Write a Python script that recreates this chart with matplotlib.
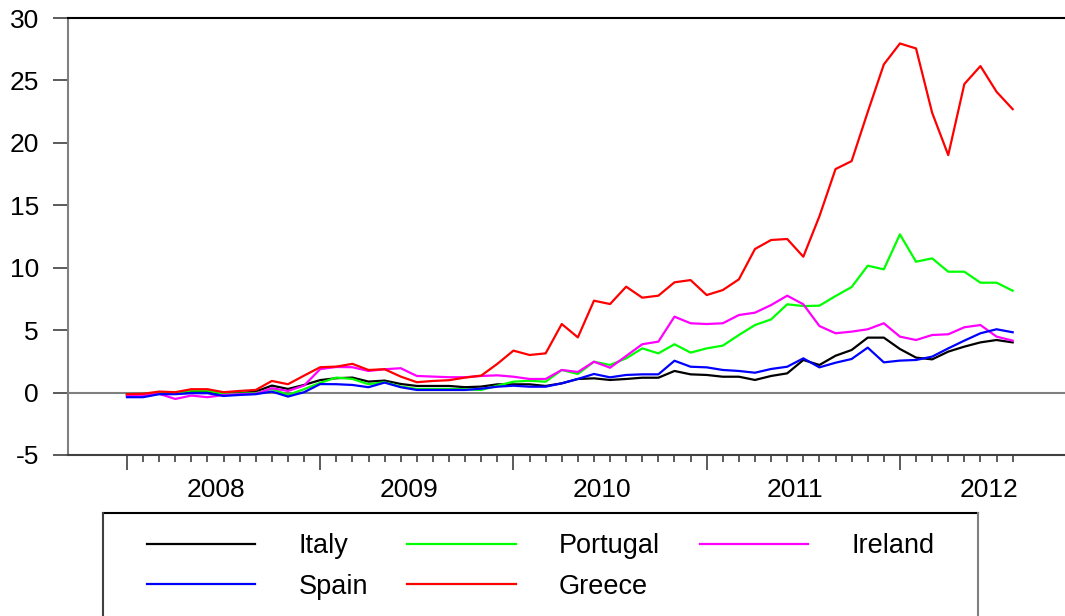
import matplotlib
matplotlib.use("Agg")
import matplotlib.pyplot as plt
from matplotlib.lines import Line2D
from matplotlib.transforms import blended_transform_factory
import numpy as np

plt.rcParams['font.family'] = ['Liberation Sans', 'DejaVu Sans']
plt.rcParams['axes.unicode_minus'] = False

# monthly observations, Jan 2008 .. Aug 2012
years = ['2008', '2009', '2010', '2011', '2012']

italy = [-0.19, -0.13, -0.08, -0.05, 0.08, 0.08, -0.10, -0.05, 0.08, 0.56, 0.29, 0.61,
         1.00, 1.15, 1.20, 0.88, 0.96, 0.69, 0.53, 0.53, 0.53, 0.43, 0.48, 0.66,
         0.66, 0.66, 0.53, 0.74, 1.09, 1.14, 1.01, 1.09, 1.19, 1.19, 1.73, 1.46,
         1.41, 1.27, 1.27, 1.01, 1.33, 1.54, 2.61, 2.21, 2.95, 3.41, 4.40, 4.40,
         3.49, 2.80, 2.66, 3.28, 3.68, 4.02, 4.21, 4.02]
spain = [-0.37, -0.37, -0.13, -0.13, -0.05, -0.05, -0.27, -0.19, -0.13, 0.08, -0.32, 0.03,
         0.68, 0.67, 0.61, 0.43, 0.80, 0.43, 0.21, 0.21, 0.21, 0.21, 0.31, 0.47,
         0.55, 0.47, 0.47, 0.74, 1.09, 1.49, 1.22, 1.41, 1.46, 1.46, 2.55, 2.07,
         2.02, 1.81, 1.73, 1.59, 1.89, 2.07, 2.74, 2.02, 2.39, 2.69, 3.60, 2.42,
         2.56, 2.61, 2.88, 3.54, 4.16, 4.75, 5.07, 4.83]
portugal = [-0.19, -0.13, -0.05, -0.05, 0.16, 0.16, -0.10, -0.08, -0.05, 0.29, -0.19, 0.27,
            0.78, 1.20, 1.09, 0.67, 0.83, 0.48, 0.29, 0.29, 0.29, 0.27, 0.21, 0.55,
            0.87, 0.95, 0.87, 1.81, 1.49, 2.47, 2.21, 2.74, 3.54, 3.14, 3.87, 3.20,
            3.54, 3.76, 4.61, 5.41, 5.86, 7.07, 6.93, 6.96, 7.73, 8.45, 10.16, 9.87,
            12.67, 10.48, 10.75, 9.68, 9.68, 8.80, 8.80, 8.16]
greece = [-0.13, -0.10, 0.08, 0.03, 0.27, 0.27, 0.03, 0.13, 0.21, 0.93, 0.67, 1.36,
          2.03, 2.08, 2.30, 1.81, 1.87, 1.28, 0.83, 0.93, 0.99, 1.20, 1.36, 2.30,
          3.36, 3.01, 3.14, 5.49, 4.42, 7.36, 7.09, 8.48, 7.60, 7.76, 8.83, 9.01,
          7.81, 8.21, 9.07, 11.50, 12.22, 12.30, 10.88, 14.12, 17.90, 18.54, 22.47, 26.28,
          27.96, 27.56, 22.41, 19.02, 24.71, 26.15, 24.09, 22.70]
ireland = [-0.24, -0.19, -0.10, -0.51, -0.24, -0.37, -0.19, -0.13, -0.10, 0.35, 0.13, 0.56,
           1.88, 2.05, 2.03, 1.73, 1.87, 1.95, 1.33, 1.28, 1.23, 1.23, 1.33, 1.38,
           1.27, 1.09, 1.09, 1.81, 1.65, 2.47, 1.99, 2.93, 3.87, 4.08, 6.08, 5.55,
           5.49, 5.55, 6.21, 6.40, 7.01, 7.76, 7.07, 5.33, 4.75, 4.88, 5.07, 5.55,
           4.48, 4.21, 4.61, 4.67, 5.23, 5.41, 4.48, 4.16]

series = [
    ('Italy', italy, '#000000'),
    ('Portugal', portugal, '#00FF00'),
    ('Ireland', ireland, '#FF00FF'),
    ('Spain', spain, '#0000FF'),
    ('Greece', greece, '#FF0000'),
]

W, H = 1065, 616
fig = plt.figure(figsize=(W / 100, H / 100), dpi=100)
ax = fig.add_axes([68 / W, 1 - 455 / H, 1 - 68 / W, (455 - 18) / H])

x = np.arange(len(italy))
lines = {}
for name, vals, col in series:
    lines[name], = ax.plot(x, vals, color=col, lw=1.6, clip_on=False)

ax.axhline(0, color='#808080', lw=1.5, zorder=0)

ax.set_xlim(-3.66, 58.25)
ax.set_ylim(-5, 30)
ax.set_yticks(range(-5, 31, 5))
ax.tick_params(axis='y', direction='out', length=11, width=1.2, color='#404040',
               labelsize=19, pad=10)

# monthly ticks, long ones at January
major = [i for i in x if i % 12 == 0]
minor = [i for i in x if i % 12 != 0]
ax.set_xticks(major)
ax.set_xticks(minor, minor=True)
ax.set_xticklabels([])
ax.tick_params(axis='x', which='major', direction='out', length=11, width=1.2, color='#404040')
ax.tick_params(axis='x', which='minor', direction='out', length=5, width=1.2, color='#404040')

trans = blended_transform_factory(ax.transData, ax.transAxes)
for k, yr in enumerate(years):
    ax.annotate(yr, xy=(12 * k + 5.5, 0), xycoords=trans, xytext=(0, -30),
                textcoords='offset points', ha='center', va='baseline', fontsize=19)

ax.spines['right'].set_visible(False)
ax.spines['left'].set_color('#808080')
ax.spines['left'].set_linewidth(1.5)
ax.spines['top'].set_color('#000000')
ax.spines['top'].set_linewidth(1.5)
ax.spines['bottom'].set_color('#404040')
ax.spines['bottom'].set_linewidth(1.5)

order = ['Italy', 'Spain', 'Portugal', 'Greece', 'Ireland']
leg = fig.legend([lines[n] for n in order], order, ncol=3, frameon=False,
                 loc='upper left', bbox_to_anchor=(147 / W, 1 - 533 / H),
                 borderpad=0, borderaxespad=0, fontsize=19.5, handlelength=4.0,
                 handletextpad=1.6, columnspacing=1.45, labelspacing=0.55)

# legend box runs off the bottom of the picture
fig.add_artist(Line2D([103 / W, 978 / W], [1 - 513 / H, 1 - 513 / H], color='#000000', lw=1.5))
fig.add_artist(Line2D([103 / W, 103 / W], [1 - 513 / H, 0], color='#404040', lw=1.5))
fig.add_artist(Line2D([978 / W, 978 / W], [1 - 513 / H, 0], color='#808080', lw=1.5))

fig.savefig('out.png', dpi=100)
